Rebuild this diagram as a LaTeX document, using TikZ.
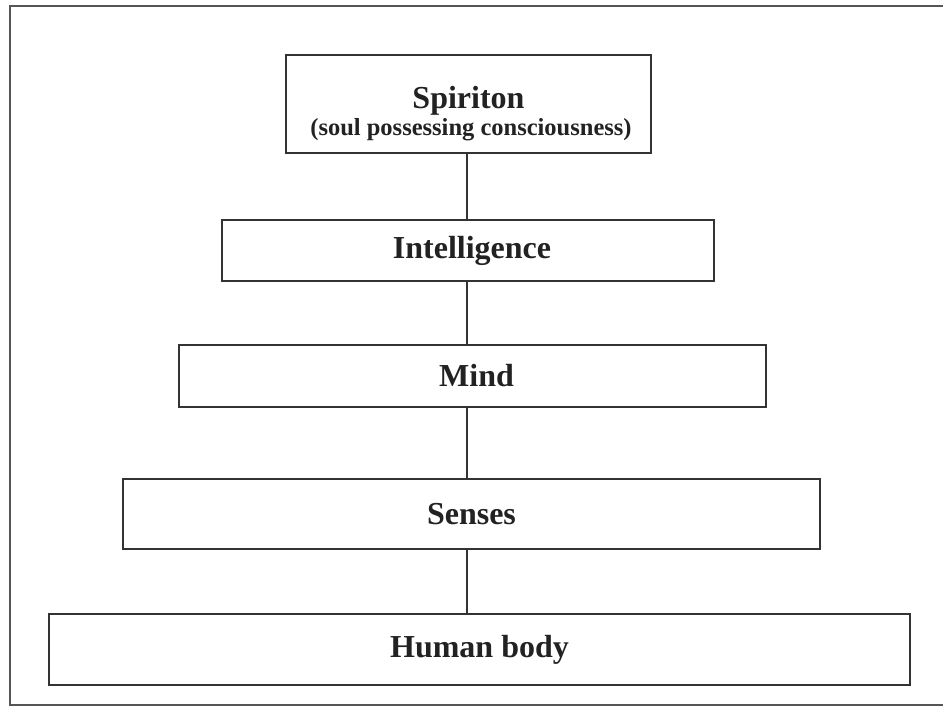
\documentclass[tikz,border=0pt]{standalone}
\usepackage{fontspec}
\setmainfont{Liberation Serif}
\usepackage{tikz}
\usetikzlibrary{positioning, calc}

\definecolor{boxline}{HTML}{333333}
\definecolor{frameline}{HTML}{555555}
\definecolor{textdark}{HTML}{222222}

\tikzset{
    levelbox/.style={draw=boxline, line width=2.6pt, fill=white, inner sep=0pt,
        text=textdark, font=\fontsize{32}{34}\selectfont\bfseries, align=center},
    link/.style={draw=boxline, line width=1.5pt}
}

\begin{document}
\begin{tikzpicture}[x=1pt, y=-1pt]
    \useasboundingbox (0,0) rectangle (943,707);

    % Outer frame (open on the right)
    \draw[frameline, line width=2pt] (943,6) -- (10,6) -- (10,705) -- (943,705);

    % Levels
    \node[levelbox, minimum width=365pt, minimum height=98pt] (spi) at (468.5,104)
        {\rule{0pt}{42pt}Spiriton\\[-7pt]{\fontsize{24.5}{26}\selectfont\hspace{5pt}(soul possessing consciousness)}};
    \node[levelbox, minimum width=492pt, minimum height=61pt] (int) at (468,250.5) {\hspace{8pt}Intelligence};
    \node[levelbox, minimum width=587pt, minimum height=62pt] (mind) at (472.5,376) {\hspace{8pt}Mind};
    \node[levelbox, minimum width=697pt, minimum height=70pt] (sen) at (471.5,514) {Senses};
    \node[levelbox, minimum width=861pt, minimum height=71pt] (body) at (479.5,649.5) {Human body};

    % Connectors
    \coordinate (axis) at (467,0);
    \draw[link] (axis |- spi.south) -- (axis |- int.north);
    \draw[link] (axis |- int.south) -- (axis |- mind.north);
    \draw[link] (axis |- mind.south) -- (axis |- sen.north);
    \draw[link] (axis |- sen.south) -- (axis |- body.north);
\end{tikzpicture}
\end{document}
